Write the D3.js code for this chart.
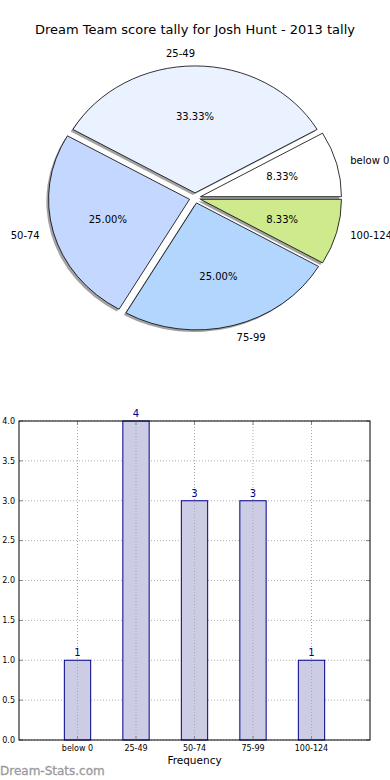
<!DOCTYPE html>
<html>
<head>
<meta charset="utf-8">
<script src="https://cdn.jsdelivr.net/npm/d3@7"></script>
<style>
  body { margin: 0; background: #fff; }
  svg { display: block; font-family: "DejaVu Sans", sans-serif; }
</style>
</head>
<body>
<svg id="chart" width="390" height="780"></svg>
<script>
// Data
const categories = ["below 0", "25-49", "50-74", "75-99", "100-124"];
const counts = [1, 4, 3, 3, 1];
const sliceColors = ["#ffffff", "#eaf1ff", "#c4d8ff", "#b3d6ff", "#cfea8c"];
const yTicks = [0, 0.5, 1, 1.5, 2, 2.5, 3, 3.5, 4];
const title = "Dream Team score tally for Josh Hunt - 2013 tally";

const svg = d3.select("#chart");

// Title
svg.append("text")
    .attr("x", 195)
    .attr("y", 34)
    .attr("text-anchor", "middle")
    .attr("font-size", 13)
    .attr("fill", "#000")
    .text(title);

// ---- Pie (elliptical, exploded, with shadow) ----
const cx = 195, cy = 198;
const rx = 141, ry = 127;
const explode = 0.04;
const total = d3.sum(counts);

const pie = d3.pie()
    .sort(null)
    .startAngle(Math.PI / 2)
    .endAngle(Math.PI / 2 - 2 * Math.PI);

const arcs = pie(counts);
const arc = d3.arc().innerRadius(0).outerRadius(1);

const pieG = svg.append("g");

function offsetFor(d, factor) {
    const mid = (d.startAngle + d.endAngle) / 2;
    return {
        x: factor * rx * Math.sin(mid),
        y: -factor * ry * Math.cos(mid),
        s: Math.sin(mid)
    };
}

// shadows first
arcs.forEach(d => {
    const o = offsetFor(d, explode);
    pieG.append("path")
        .attr("d", arc(d))
        .attr("transform", `translate(${cx + o.x - 2.2},${cy + o.y + 2.2}) scale(${rx},${ry})`)
        .attr("fill", "#555")
        .attr("fill-opacity", 0.55)
        .attr("stroke", "none");
});

arcs.forEach((d, i) => {
    const o = offsetFor(d, explode);
    pieG.append("path")
        .attr("d", arc(d))
        .attr("transform", `translate(${cx + o.x},${cy + o.y}) scale(${rx},${ry})`)
        .attr("fill", sliceColors[i])
        .attr("stroke", "#000")
        .attr("stroke-width", 0.8)
        .attr("vector-effect", "non-scaling-stroke");
});

arcs.forEach((d, i) => {
    const lab = offsetFor(d, 1.1 + explode);
    pieG.append("text")
        .attr("x", cx + lab.x)
        .attr("y", cy + lab.y)
        .attr("dy", "0.35em")
        .attr("text-anchor", lab.s > 1e-6 ? "start" : "end")
        .attr("font-size", 10)
        .text(categories[i]);

    const pct = offsetFor(d, 0.6 + explode);
    pieG.append("text")
        .attr("x", cx + pct.x)
        .attr("y", cy + pct.y)
        .attr("dy", "0.35em")
        .attr("text-anchor", "middle")
        .attr("font-size", 10)
        .text((d.value / total * 100).toFixed(2) + "%");
});

// ---- Bar chart ----
const plotLeft = 19, plotRight = 370, plotTop = 421, plotBottom = 740;
const x = d3.scaleLinear().domain([-1, 5]).range([plotLeft, plotRight]);
const y = d3.scaleLinear().domain([0, 4]).range([plotBottom, plotTop]);
const barW = 0.45;

const barG = svg.append("g");

// grid
barG.selectAll(".hgrid")
    .data(yTicks)
    .enter()
    .append("line")
    .attr("x1", plotLeft).attr("x2", plotRight)
    .attr("y1", d => y(d)).attr("y2", d => y(d))
    .attr("stroke", "#b0b0b0")
    .attr("stroke-dasharray", "1,2");

// bars
barG.selectAll(".bar")
    .data(counts)
    .enter()
    .append("rect")
    .attr("x", (d, i) => x(i - barW / 2))
    .attr("width", x(barW) - x(0))
    .attr("y", d => y(d))
    .attr("height", d => y(0) - y(d))
    .attr("fill", "#ccccE4")
    .attr("stroke", "#00008b")
    .attr("stroke-width", 1);

// vertical grid (drawn over bars)
barG.selectAll(".vgrid")
    .data(categories)
    .enter()
    .append("line")
    .attr("x1", (d, i) => x(i)).attr("x2", (d, i) => x(i))
    .attr("y1", plotTop).attr("y2", plotBottom)
    .attr("stroke", "#a8a8b0")
    .attr("stroke-dasharray", "1,2");

// value labels
barG.selectAll(".val")
    .data(counts)
    .enter()
    .append("text")
    .attr("x", (d, i) => x(i))
    .attr("y", d => y(d) - 4)
    .attr("text-anchor", "middle")
    .attr("font-size", 10)
    .attr("fill", "#00008b")
    .text(d => d);

// inner ticks
yTicks.forEach(t => {
    barG.append("line").attr("x1", plotLeft).attr("x2", plotLeft + 4)
        .attr("y1", y(t)).attr("y2", y(t)).attr("stroke", "#888");
    barG.append("line").attr("x1", plotRight - 4).attr("x2", plotRight)
        .attr("y1", y(t)).attr("y2", y(t)).attr("stroke", "#888");
});
categories.forEach((c, i) => {
    barG.append("line").attr("x1", x(i)).attr("x2", x(i))
        .attr("y1", plotTop).attr("y2", plotTop + 4).attr("stroke", "#888");
    barG.append("line").attr("x1", x(i)).attr("x2", x(i))
        .attr("y1", plotBottom - 4).attr("y2", plotBottom).attr("stroke", "#888");
});

// frame
barG.append("rect")
    .attr("x", plotLeft).attr("y", plotTop)
    .attr("width", plotRight - plotLeft).attr("height", plotBottom - plotTop)
    .attr("fill", "none")
    .attr("stroke", "#000")
    .attr("stroke-width", 1);

// y tick labels
barG.selectAll(".ylab")
    .data(yTicks)
    .enter()
    .append("text")
    .attr("x", 15)
    .attr("y", d => y(d))
    .attr("dy", "0.35em")
    .attr("text-anchor", "end")
    .attr("font-size", 8)
    .text(d => d.toFixed(1));

// x tick labels
barG.selectAll(".xlab")
    .data(categories)
    .enter()
    .append("text")
    .attr("x", (d, i) => x(i))
    .attr("y", 748)
    .attr("dy", "0.35em")
    .attr("text-anchor", "middle")
    .attr("font-size", 8)
    .text(d => d);

// x axis title
barG.append("text")
    .attr("x", x(2))
    .attr("y", 760)
    .attr("dy", "0.35em")
    .attr("text-anchor", "middle")
    .attr("font-size", 10.5)
    .text("Frequency");

// watermark
svg.append("text")
    .attr("x", 0)
    .attr("y", 775)
    .attr("font-size", 12)
    .attr("fill", "#9a9a9a")
    .attr("stroke", "#9a9a9a")
    .attr("stroke-width", 0.3)
    .text("Dream-Stats.com");
</script>
</body>
</html>
